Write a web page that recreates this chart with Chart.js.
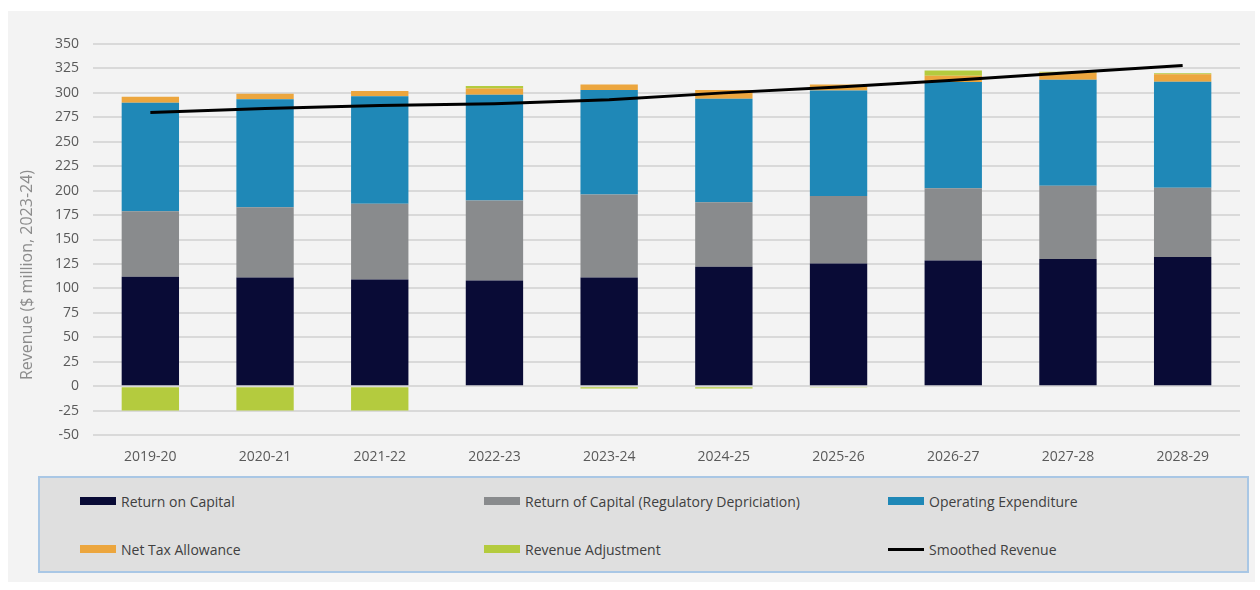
<!DOCTYPE html>
<html>
<head>
<meta charset="utf-8">
<title>Revenue building blocks</title>
<script src="https://cdn.jsdelivr.net/npm/chart.js@4.4.1/dist/chart.umd.min.js"></script>
<style>
  html, body { margin: 0; padding: 0; background: #fff; }
  body { width: 1260px; height: 590px; position: relative; overflow: hidden; font-family: "Open Sans", sans-serif; }
  #panel { position: absolute; left: 8px; top: 11px; width: 1247px; height: 571px; background: #f3f3f3; }
  #chart { position: absolute; left: 0; top: 0; }
  #legend {
    position: absolute; left: 38px; top: 476px; width: 1211px; height: 97px;
    box-sizing: border-box; background: #dfdfdf; border: 2px solid #a9c7e5;
  }
  .item { position: absolute; display: flex; align-items: center; height: 20px; font-size: 14px; color: #404040; white-space: nowrap; }
  .swatch { width: 36px; height: 8px; margin-right: 5px; }
  .swatch.line { height: 3px; }
</style>
</head>
<body>
<div id="panel"></div>
<canvas id="chart" width="1260" height="475"></canvas>
<div id="legend"></div>

<script>
// --- data ---
const years = ['2019-20', '2020-21', '2021-22', '2022-23', '2023-24', '2024-25', '2025-26', '2026-27', '2027-28', '2028-29'];
const returnOnCapital = [112, 111, 109, 108, 111, 122, 125.5, 128.5, 130, 132];
const returnOfCapital = [67, 72, 77.5, 82, 85, 66, 69, 74, 75, 71];
const operatingExpenditure = [111, 110.5, 110, 108, 107, 106, 108, 108.5, 108.5, 108.5];
const netTaxAllowance = [6, 5.5, 5.5, 6.5, 5.5, 9, 6, 6.5, 7, 7.5];
const revenueAdjustment = [-25, -25, -25, 2.5, -2.5, -2.5, -1, 5.5, 1, 1];
const smoothedRevenue = [280, 284, 287, 289, 293, 300, 306, 313, 320.5, 328];

const yAxisTitle = 'Revenue ($ million, 2023-24)';

const barSeries = [
  { label: 'Return on Capital', data: returnOnCapital, color: '#090b36' },
  { label: 'Return of Capital (Regulatory Depriciation)', data: returnOfCapital, color: '#898b8d' },
  { label: 'Operating Expenditure', data: operatingExpenditure, color: '#1f88b7' },
  { label: 'Net Tax Allowance', data: netTaxAllowance, color: '#eca63e' },
  { label: 'Revenue Adjustment', data: revenueAdjustment, color: '#b4cb3e' }
];
const lineSeries = { label: 'Smoothed Revenue', data: smoothedRevenue, color: '#000000' };

const datasets = barSeries.map(s => ({
  type: 'bar',
  label: s.label,
  data: s.data,
  backgroundColor: s.color,
  borderWidth: 0,
  barPercentage: 0.5,
  categoryPercentage: 1,
  order: 1
}));
datasets.push({
  type: 'line',
  label: lineSeries.label,
  data: lineSeries.data,
  borderColor: lineSeries.color,
  borderWidth: 3,
  pointRadius: 0,
  tension: 0,
  fill: false,
  stack: 'smooth',
  order: 0
});

// rotated axis title, drawn by hand so it sits where it should
const yTitlePlugin = {
  id: 'yTitle',
  afterDraw(chart) {
    const ctx = chart.ctx;
    ctx.save();
    ctx.translate(27, 275);
    ctx.rotate(-Math.PI / 2);
    ctx.font = '16px "Open Sans"';
    ctx.fillStyle = '#8c8c8c';
    ctx.textAlign = 'center';
    ctx.textBaseline = 'middle';
    ctx.fillText(yAxisTitle, 0, 0);
    ctx.restore();
  }
};

Chart.defaults.font.family = '"Open Sans", sans-serif';
Chart.defaults.font.size = 14;
Chart.defaults.color = '#595959';

new Chart(document.getElementById('chart'), {
  type: 'bar',
  data: { labels: years, datasets: datasets },
  options: {
    responsive: false,
    animation: false,
    devicePixelRatio: 1,
    layout: { padding: { left: 0, right: 20, top: 44, bottom: 0 } },
    plugins: {
      legend: { display: false },
      tooltip: { enabled: false }
    },
    scales: {
      x: {
        stacked: true,
        grid: { display: false, drawTicks: false },
        border: { display: false },
        ticks: { padding: 14, color: '#595959' },
        afterFit(scale) { scale.height = 40; }
      },
      y: {
        stacked: true,
        min: -50,
        max: 350,
        ticks: { stepSize: 25, padding: 14, color: '#595959' },
        grid: { color: '#d9d9d9', lineWidth: 2, drawTicks: false },
        border: { display: false },
        afterFit(scale) { scale.width = 93; }
      }
    }
  },
  plugins: [yTitlePlugin]
});

// --- legend, three columns by two rows ---
const legend = document.getElementById('legend');
const legendItems = barSeries.map(s => ({ label: s.label, color: s.color, line: false }));
legendItems.push({ label: lineSeries.label, color: lineSeries.color, line: true });
const colLeft = [40, 444, 848];
const rowTop = [13, 61];
legendItems.forEach((it, i) => {
  const el = document.createElement('div');
  el.className = 'item';
  el.style.left = colLeft[i % 3] + 'px';
  el.style.top = rowTop[Math.floor(i / 3)] + 'px';
  const sw = document.createElement('span');
  sw.className = 'swatch' + (it.line ? ' line' : '');
  sw.style.background = it.color;
  el.appendChild(sw);
  el.appendChild(document.createTextNode(it.label));
  legend.appendChild(el);
});
</script>
</body>
</html>
